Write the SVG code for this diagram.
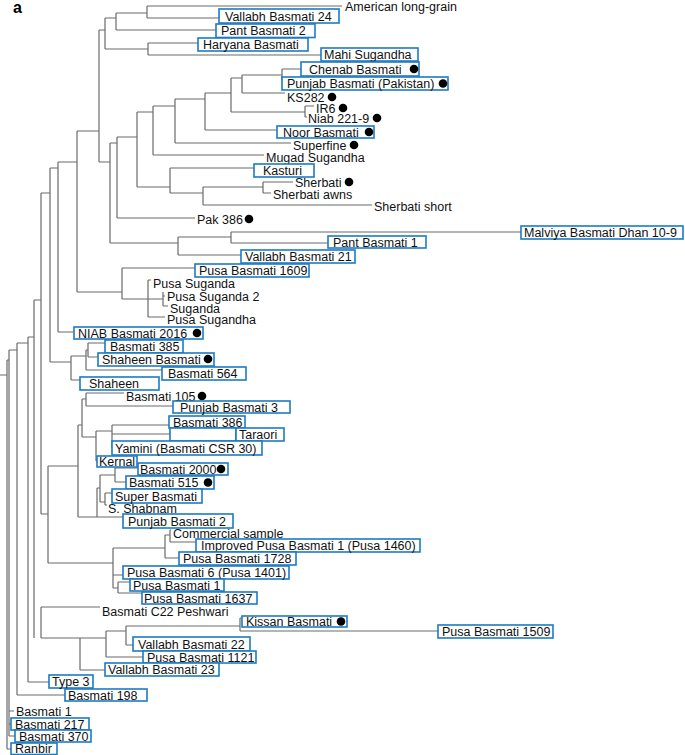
<svg xmlns="http://www.w3.org/2000/svg" width="685" height="755" viewBox="0 0 685 755">
<style>
.br{fill:none;stroke:#6a6a6a;stroke-width:1.2}
.b{fill:#fff;stroke:#1c7bc4;stroke-width:1.6}
.t{font-family:"Liberation Sans",Arial,sans-serif;font-size:12.5px;fill:#111}
.d{fill:#000}
</style>
<rect width="685" height="755" fill="#fff"/>
<text x="13" y="13" style="font-family:'Liberation Sans',Arial,sans-serif;font-size:16px;font-weight:bold">a</text>
<g id="connectors" class="br">
<path d="M147 6V18M147 6H342M147 18H219M116 13V30M116 13H147M116 30H216M148 43V55M148 43H198M148 55H321M105 18V49M105 18H116M105 49H148M99 30V162M99 30H105M99 162H110"/>
<path d="M110 143V243M110 143H117M110 243H178M117 137V218M117 137H137M117 218H195M137 112V187M137 112H153M137 187H170M153 106V155M153 106H175M153 155H264M175 99V143M175 99H205M175 143H291M205 93V130M205 93H231M205 130H277M231 78V112M231 78H242M231 112H305M242 75V93M242 75H282M242 93H285M282 69V80M282 69H301M305 106V117M305 106H314M305 117H307"/>
<path d="M170 168V193M170 168H254M170 193H203M203 187V205M203 187H263M203 205H372M263 182V193M263 182H293M263 193H271M178 237V255M178 237H231M178 255H241M231 232V243M231 232H521M231 243H328"/>
<path d="M77 131V292M77 131H99M77 292H122M122 268V299M122 268H195M122 299H148M148 280V317M148 280H151M148 299H163M148 317H165M163 292V306M163 296H165M163 306H168"/>
<path d="M58 162V332M58 162H77M58 332H74M50 168V362M50 168H58M50 362H71M71 356V380M71 356H86M71 380H80M86 350V370M86 350H88M86 370H162M88 343V357M88 343H105M88 357H98"/>
<path d="M41 193V514M41 193H50M41 514H48M34 300V638M34 300H41M28 337V682M28 337H34M28 682H49M17 343V695M17 343H28M17 695H65M9 350V736M9 350H17M9 711H14M9 724H11M9 736H15M7 360V749M7 360H9M7 749H11M0 375H7"/>
<path d="M48 466V563M48 466H78M48 563H113M78 425V517M78 425H82M78 517H97M82 399V437M82 399H86M82 437H96M86 393V406M86 393H124M86 406H173M96 431V461M96 431H112M96 461H97M112 425V448M112 425H169M112 434H170M112 448H112M97 488V517M97 488H100M97 517H123M100 475V502M100 475H115M100 502H105M115 468V482M115 468H138M115 482H126M105 493V505M105 493H112M105 505H107"/>
<path d="M113 548V588M113 548H165M113 575H123M113 588H118M165 535V558M165 535H170M165 558H179M170 530V542M170 530H171M170 542H196M118 582V593M118 582H130M118 593H142"/>
<path d="M41 607V638M41 607H100M41 638H80M80 638V670M80 638H106M80 670H105M106 631V657M106 631H126M106 657H143M126 626V645M126 626H240M126 645H133M240 618V631M240 618H242M240 631H438"/>
</g>
<g id="n1"><text class="t" x="345" y="11">American long-grain</text></g>
<g id="n2"><rect class="b" x="219" y="9" width="120" height="14"/><text class="t" x="225" y="20.5">Vallabh Basmati 24</text></g>
<g id="n3"><rect class="b" x="216" y="24" width="99" height="13.5"/><text class="t" x="221" y="35">Pant Basmati 2</text></g>
<g id="n4"><rect class="b" x="198" y="38" width="110" height="13"/><text class="t" x="203" y="49">Haryana Basmati</text></g>
<g id="n5"><rect class="b" x="321" y="48" width="97" height="13"/><text class="t" x="324" y="59">Mahi Sugandha</text></g>
<g id="n6"><rect class="b" x="301" y="62" width="118" height="14"/><text class="t" x="309" y="73.5">Chenab Basmati</text><circle class="d" cx="414" cy="69" r="4.3"/></g>
<g id="n7"><rect class="b" x="282" y="77" width="166" height="13"/><text class="t" x="287" y="88">Punjab Basmati (Pakistan)</text><circle class="d" cx="443" cy="83.5" r="4.3"/></g>
<g id="n8"><text class="t" x="287" y="101.5">KS282</text><circle class="d" cx="332" cy="97" r="4.3"/></g>
<g id="n9"><text class="t" x="316" y="112.5">IR6</text><circle class="d" cx="343" cy="108" r="4.3"/></g>
<g id="n10"><text class="t" x="308" y="122.5">Niab 221-9</text><circle class="d" cx="377" cy="118" r="4.3"/></g>
<g id="n11"><rect class="b" x="277" y="126" width="97" height="12"/><text class="t" x="283" y="136.5">Noor Basmati</text><circle class="d" cx="369" cy="132" r="4.3"/></g>
<g id="n12"><text class="t" x="293" y="149.5">Superfine</text><circle class="d" cx="354" cy="145" r="4.3"/></g>
<g id="n13"><text class="t" x="266" y="161.5">Mugad Sugandha</text></g>
<g id="n14"><rect class="b" x="254" y="164" width="60" height="13"/><text class="t" x="263" y="175">Kasturi</text></g>
<g id="n15"><text class="t" x="295" y="186.5">Sherbati</text><circle class="d" cx="349" cy="182" r="4.3"/></g>
<g id="n16"><text class="t" x="273" y="198.5">Sherbati awns</text></g>
<g id="n17"><text class="t" x="374" y="210.5">Sherbati short</text></g>
<g id="n18"><text class="t" x="197" y="223.5">Pak 386</text><circle class="d" cx="249" cy="219" r="4.3"/></g>
<g id="n19"><rect class="b" x="521" y="226" width="162" height="13"/><text class="t" x="524" y="237">Malviya Basmati Dhan 10-9</text></g>
<g id="n20"><rect class="b" x="328" y="236" width="98" height="12"/><text class="t" x="333" y="246.5">Pant Basmati 1</text></g>
<g id="n21"><rect class="b" x="241" y="250" width="114" height="13"/><text class="t" x="245" y="261">Vallabh Basmati 21</text></g>
<g id="n22"><rect class="b" x="195" y="264" width="114" height="13"/><text class="t" x="199" y="275">Pusa Basmati 1609</text></g>
<g id="n23"><text class="t" x="153" y="287.5">Pusa Suganda</text></g>
<g id="n24"><text class="t" x="167" y="300.5">Pusa Suganda 2</text></g>
<g id="n25"><text class="t" x="170" y="312.5">Suganda</text></g>
<g id="n26"><text class="t" x="167" y="324">Pusa Sugandha</text></g>
<g id="n27"><rect class="b" x="74" y="327" width="129" height="12"/><text class="t" x="78" y="337.5">NIAB Basmati 2016</text><circle class="d" cx="197" cy="333" r="4.3"/></g>
<g id="n28"><rect class="b" x="105" y="340" width="78" height="13"/><text class="t" x="110" y="351">Basmati 385</text></g>
<g id="n29"><rect class="b" x="98" y="353" width="116" height="13"/><text class="t" x="102" y="364">Shaheen Basmati</text><circle class="d" cx="208" cy="359" r="4.3"/></g>
<g id="n30"><rect class="b" x="162" y="367" width="84" height="13"/><text class="t" x="168" y="378">Basmati 564</text></g>
<g id="n31"><rect class="b" x="80" y="377" width="79" height="13"/><text class="t" x="89" y="388">Shaheen</text></g>
<g id="n32"><text class="t" x="126" y="400.5">Basmati 105</text><circle class="d" cx="202" cy="396" r="4.3"/></g>
<g id="n33"><rect class="b" x="173" y="401" width="117" height="12"/><text class="t" x="180" y="411.5">Punjab Basmati 3</text></g>
<g id="n34"><rect class="b" x="169" y="416" width="76" height="12"/><text class="t" x="173" y="426.5">Basmati 386</text></g>
<g id="n35"><rect class="b" x="170" y="428" width="66" height="13"/><rect class="b" x="236" y="428" width="48" height="13"/><text class="t" x="239" y="439">Taraori</text></g>
<g id="n36"><rect class="b" x="112" y="441" width="150" height="14"/><text class="t" x="115" y="452.5">Yamini (Basmati CSR 30)</text></g>
<g id="n37"><rect class="b" x="97" y="456" width="40" height="11"/><text class="t" x="99" y="466">Kernal</text></g>
<g id="n38"><rect class="b" x="138" y="463" width="90" height="12"/><text class="t" x="140" y="473.5">Basmati 2000</text><circle class="d" cx="221" cy="469" r="4.3"/></g>
<g id="n39"><rect class="b" x="126" y="476" width="88" height="13"/><text class="t" x="129" y="487">Basmati 515</text><circle class="d" cx="208" cy="482.5" r="4.3"/></g>
<g id="n40"><rect class="b" x="112" y="489" width="90" height="14"/><text class="t" x="115" y="500.5">Super Basmati</text></g>
<g id="n41"><text class="t" x="108" y="512.5">S. Shabnam</text></g>
<g id="n42"><rect class="b" x="123" y="514" width="110" height="14"/><text class="t" x="128" y="525.5">Punjab Basmati 2</text></g>
<g id="n43"><text class="t" x="173" y="537.5">Commercial sample</text></g>
<g id="n44"><rect class="b" x="196" y="539" width="224" height="13"/><text class="t" x="201" y="550">Improved Pusa Basmati 1 (Pusa 1460)</text></g>
<g id="n45"><rect class="b" x="179" y="552" width="117" height="13"/><text class="t" x="183" y="563">Pusa Basmati 1728</text></g>
<g id="n46"><rect class="b" x="123" y="566" width="166" height="13"/><text class="t" x="127" y="577">Pusa Basmati 6 (Pusa 1401)</text></g>
<g id="n47"><rect class="b" x="130" y="579" width="94" height="12"/><text class="t" x="133" y="589.5">Pusa Basmati 1</text></g>
<g id="n48"><rect class="b" x="142" y="592" width="115" height="12"/><text class="t" x="144" y="602.5">Pusa Basmati 1637</text></g>
<g id="n49"><text class="t" x="102" y="615.5">Basmati C22 Peshwari</text></g>
<g id="n50"><rect class="b" x="242" y="616" width="105" height="11"/><text class="t" x="246" y="626">Kissan Basmati</text><circle class="d" cx="341" cy="621.5" r="4.3"/></g>
<g id="n51"><rect class="b" x="438" y="625" width="115" height="13"/><text class="t" x="442" y="636">Pusa Basmati 1509</text></g>
<g id="n52"><rect class="b" x="133" y="637" width="117" height="14"/><text class="t" x="138" y="648.5">Vallabh Basmati 22</text></g>
<g id="n53"><rect class="b" x="143" y="651" width="113" height="12"/><text class="t" x="147" y="661.5">Pusa Basmati 1121</text></g>
<g id="n54"><rect class="b" x="105" y="663" width="114" height="13"/><text class="t" x="108" y="674">Vallabh Basmati 23</text></g>
<g id="n55"><rect class="b" x="49" y="675" width="44" height="13"/><text class="t" x="52" y="686">Type 3</text></g>
<g id="n56"><rect class="b" x="65" y="689" width="82" height="12"/><text class="t" x="68" y="699.5">Basmati 198</text></g>
<g id="n57"><text class="t" x="16" y="715.5">Basmati 1</text></g>
<g id="n58"><rect class="b" x="11" y="718" width="78" height="12"/><text class="t" x="15" y="728.5">Basmati 217</text></g>
<g id="n59"><rect class="b" x="15" y="730" width="76" height="12"/><text class="t" x="19" y="740.5">Basmati 370</text></g>
<g id="n60"><rect class="b" x="11" y="743" width="46" height="11.5"/><text class="t" x="15" y="753">Ranbir</text></g>
</svg>
